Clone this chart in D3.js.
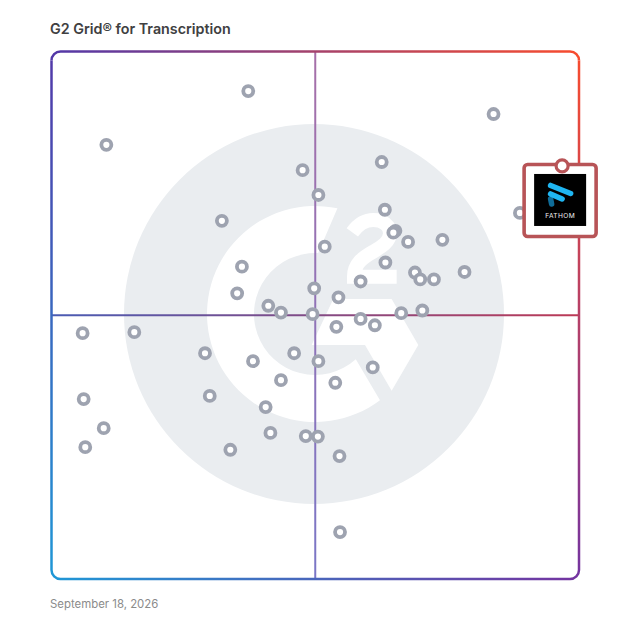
<!DOCTYPE html>
<html><head><meta charset="utf-8">
<script src="https://cdn.jsdelivr.net/npm/d3@7"></script>
<style>html,body{margin:0;padding:0;background:#fff}svg{display:block}</style>
</head><body><div id="c"></div>
<script>
const titleText = "G2 Grid® for Transcription";
const dateText = "September 18, 2026";
const productName = "FATHOM";
// Grid position in percent of the axes: satisfaction (x), market presence (y)
const satisfaction = [37.3,10.4,83.8,47.6,62.6,50.6,32.3,63.2,65.2,64.8,67.6,74.1,88.8,51.8,36.1,63.3,68.9,69.9,72.5,78.3,58.6,35.2,49.8,54.4,41.1,43.5,49.5,66.3,70.3,58.6,61.3,54.0,5.9,15.7,29.1,38.2,46.0,50.6,60.9,43.5,53.8,6.1,30.0,40.6,9.9,6.4,41.5,48.2,50.5,33.9,54.6,54.7];
const presence = [92.5,82.3,88.15,77.5,79.05,72.8,67.9,70.0,66.0,65.65,63.9,64.3,69.4,63.0,59.2,60.0,58.1,56.8,56.8,58.2,56.4,54.15,55.1,53.4,51.8,50.5,50.2,50.4,50.9,49.3,48.1,47.8,46.6,46.8,42.8,41.3,42.8,41.3,40.1,37.7,37.2,34.1,34.7,32.6,28.6,25.0,27.7,27.1,27.0,24.5,23.3,8.9];
const featuredSatisfaction = 96.8;
const featuredPresence = 78.3;
const cornerColors = {tl:"#5238a8",tr:"#f84c2e",br:"#7434a0",bl:"#1f97d6"};
const hColors = ["#4a5cb4","#bc3a56"];
const vColors = ["#a66fa8","#7a76c6"];

const W=628,H=628,L=51.5,T=51.5,R=579,B=579,r=9;
const svg=d3.select("#c").append("svg").attr("width",W).attr("height",H);
const x=d3.scaleLinear().domain([0,100]).range([L,R]);
const y=d3.scaleLinear().domain([0,100]).range([B,T]);
const defs=svg.append("defs");
function grad(id,x1,y1,x2,y2,c1,c2){
  const g=defs.append("linearGradient").attr("id",id).attr("gradientUnits","userSpaceOnUse")
   .attr("x1",x1).attr("y1",y1).attr("x2",x2).attr("y2",y2);
  g.append("stop").attr("offset",0).attr("stop-color",c1);
  g.append("stop").attr("offset",1).attr("stop-color",c2);
}
grad("gt",L,T,R,T,cornerColors.tl,cornerColors.tr);
grad("gr",R,T,R,B,cornerColors.tr,cornerColors.br);
grad("gb",L,B,R,B,cornerColors.bl,cornerColors.br);
grad("gl",L,T,L,B,cornerColors.tl,cornerColors.bl);
grad("gh",L,0,R,0,hColors[0],hColors[1]);
grad("gv",0,T,0,B,vColors[0],vColors[1]);

// watermark
svg.append("circle").attr("cx",314).attr("cy",314).attr("r",190).attr("fill","#eaedf0");
const wm=svg.append("g").attr("transform","translate(200,200) scale(0.3333)").attr("fill","#fff");
const ro=324,ri=183,ccx=345,ccy=342;
const pt=(R_,deg)=>[ccx+R_*Math.cos(deg*Math.PI/180),ccy+R_*Math.sin(deg*Math.PI/180)];
const a1=pt(ro,-78),a2=pt(ro,53),a3=pt(ri,48),a4=pt(ri,-87);
wm.append("path").attr("d",`M${a1} A${ro},${ro} 0 1 0 ${a2} L${a3} A${ri},${ri} 0 1 1 ${a4} Z`);
wm.append("path").attr("d","M400,297 L575,297 L655,435 L575,572 L495,435 L335,435 Z");
wm.append("path").attr("fill","none").attr("stroke","#fff").attr("stroke-width",42)
 .attr("d","M457,97 C475,72 497,60 520,60 C550,60 570,78 570,100 C570,125 545,140 520,155 C490,172 462,190 462,230 L590,230");

// crosshair
svg.append("line").attr("x1",L).attr("x2",R).attr("y1",y(50)).attr("y2",y(50)).attr("stroke","url(#gh)").attr("stroke-width",2);
svg.append("line").attr("x1",x(50)).attr("x2",x(50)).attr("y1",T).attr("y2",B).attr("stroke","url(#gv)").attr("stroke-width",2);

// border sides
const sw=2.5;
const side=(d,g)=>svg.append("path").attr("d",d).attr("fill","none").attr("stroke",`url(#${g})`).attr("stroke-width",sw);
side(`M${L},${T+r} A${r},${r} 0 0 1 ${L+r},${T} L${R-r},${T} A${r},${r} 0 0 1 ${R},${T+r}`,"gt");
side(`M${R},${T+r} L${R},${B-r}`,"gr");
side(`M${R},${B-r} A${r},${r} 0 0 1 ${R-r},${B} L${L+r},${B} A${r},${r} 0 0 1 ${L},${B-r}`,"gb");
side(`M${L},${B-r} L${L},${T+r}`,"gl");

// points
svg.append("g").selectAll("circle").data(satisfaction).join("circle")
 .attr("cx",d=>x(d)).attr("cy",(d,i)=>y(presence[i])).attr("r",5)
 .attr("fill","#fff").attr("stroke","#9ea3b0").attr("stroke-width",3.8);

// featured product
const fx=x(featuredSatisfaction),fy=y(featuredPresence);
const feat=svg.append("g").attr("transform",`translate(${fx},${fy})`);
feat.append("rect").attr("x",-38).attr("y",-1.5).attr("width",72).attr("height",72).attr("rx",3.5)
 .attr("fill","#fff").attr("stroke","#b85457").attr("stroke-width",3.6);
feat.append("rect").attr("x",-28).attr("y",8).attr("width",52).attr("height",52).attr("fill","#000");
const bar=(x1,y1,x2,y2,c)=>feat.append("line").attr("x1",x1).attr("y1",y1).attr("x2",x2).attr("y2",y2)
 .attr("stroke",c).attr("stroke-width",5.5).attr("stroke-linecap","round");
bar(-11.5,33,-10.5,38,"#0f6c98");
bar(-11.5,28,0,33,"#1fb6f2");
bar(-11.5,19.5,8.5,27.5,"#1fb6f2");
feat.append("text").attr("x",-2).attr("y",52).attr("text-anchor","middle").attr("font-family","Inter, sans-serif")
 .attr("font-size",6.6).attr("letter-spacing",0.4).attr("fill","#f2f2f2").text(productName);
feat.append("circle").attr("r",6).attr("fill","#fff").attr("stroke","#b85457").attr("stroke-width",3.2);

// text
svg.append("text").attr("x",50).attr("y",34).attr("font-family","Inter, sans-serif").attr("font-weight",600)
 .attr("font-size",14.3).attr("fill","#404041").text(titleText);
svg.append("text").attr("x",50).attr("y",608).attr("font-family","Inter, sans-serif")
 .attr("font-size",11.4).attr("fill","#8b8b8b").text(dateText);
</script></body></html>
